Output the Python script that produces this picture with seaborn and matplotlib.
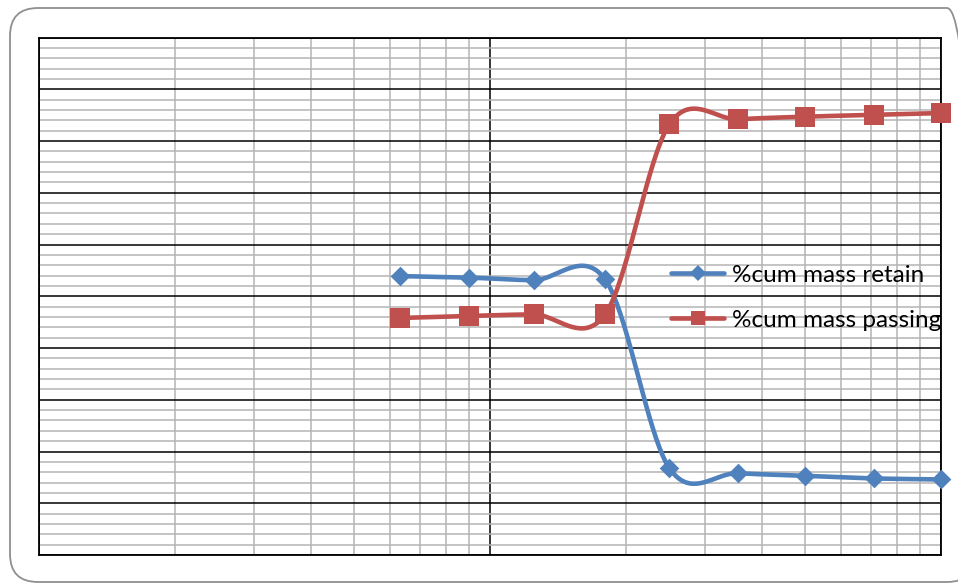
import numpy as np
import pandas as pd
import seaborn as sns
import matplotlib
matplotlib.use("Agg")
import matplotlib.pyplot as plt
from matplotlib.lines import Line2D
from matplotlib.patches import FancyBboxPatch
from matplotlib.transforms import IdentityTransform
from matplotlib.ticker import FixedLocator, NullFormatter

# ---- data (sieve size, µm) ----
sizes = [63, 90, 125, 180, 250, 355, 500, 710, 1000]
cum_retain = [53.9, 53.6, 53.1, 53.25, 16.75, 15.8, 15.3, 14.8, 14.6]
cum_passing = [45.8, 46.2, 46.5, 46.5, 83.25, 84.2, 84.7, 85.05, 85.4]
series_names = ["%cum mass retain", "%cum mass passing"]
colors = ["#4F81BD", "#C0504D"]

sns.set_style("white")
plt.rcParams["font.family"] = ["Lato", "DejaVu Sans"]

W, H = 958, 583
fig = plt.figure(figsize=(W / 100, H / 100), dpi=100)
ax = fig.add_axes([39 / W, 1 - 555 / H, (941 - 39) / W, (555 - 37.5) / H])


def excel_smooth(xs, ys, n=40):
    """Bezier (Catmull-Rom, tension 1/6) smoothing in log-x / linear-y space."""
    P = np.column_stack([np.log10(xs), ys]).astype(float)
    out = []
    for i in range(len(P) - 1):
        p0 = P[i - 1] if i > 0 else P[i]
        p1, p2 = P[i], P[i + 1]
        p3 = P[i + 2] if i + 2 < len(P) else P[i + 1]
        c1 = p1 + (p2 - p0) / 6.0
        c2 = p2 - (p3 - p1) / 6.0
        t = np.linspace(0, 1, n)[:, None]
        if i > 0:
            t = t[1:]
        seg = ((1 - t) ** 3) * p1 + 3 * ((1 - t) ** 2) * t * c1 + 3 * (1 - t) * t ** 2 * c2 + t ** 3 * p2
        out.append(seg)
    S = np.vstack(out)
    return 10 ** S[:, 0], S[:, 1]


LW = 3.3
markers = ["D", "s"]
msizes = [100, 190]
for vals, name, col, mk, ms in zip([cum_retain, cum_passing], series_names, colors, markers, msizes):
    sx, sy = excel_smooth(sizes, vals)
    curve = pd.DataFrame({"x": sx, "y": sy})
    sns.lineplot(data=curve, x="x", y="y", ax=ax, color=col, linewidth=LW, sort=False,
                 estimator=None, zorder=5, solid_capstyle="round")
    pts = pd.DataFrame({"x": sizes, "y": vals})
    sns.scatterplot(data=pts, x="x", y="y", ax=ax, color=col, marker=mk, s=ms,
                    linewidth=0, zorder=6, clip_on=False)

ax.set_xscale("log")
ax.set_xlim(10, 1000)
ax.set_ylim(0, 100)

# grid: minor gray, major black
minor_x = [m * d for d in (10, 100) for m in range(2, 10)]
ax.xaxis.set_major_locator(FixedLocator([10, 100, 1000]))
ax.xaxis.set_minor_locator(FixedLocator(minor_x))
ax.yaxis.set_major_locator(FixedLocator(np.arange(0, 101, 10)))
ax.yaxis.set_minor_locator(FixedLocator([v for v in np.arange(0, 101, 2) if v % 10 != 0]))
ax.xaxis.set_major_formatter(NullFormatter())
ax.xaxis.set_minor_formatter(NullFormatter())
ax.yaxis.set_major_formatter(NullFormatter())
ax.yaxis.set_minor_formatter(NullFormatter())
ax.tick_params(which="both", length=0)
ax.grid(which="minor", color="#B4B4B4", lw=1.1, zorder=0)
ax.grid(which="major", color="black", lw=1.1, zorder=1)
ax.set_axisbelow(True)
ax.set_xlabel("")
ax.set_ylabel("")
for sp in ax.spines.values():
    sp.set_color("black")
    sp.set_linewidth(1.3)
    sp.set_visible(True)

# legend
handles = [
    Line2D([], [], color=colors[0], linewidth=LW, marker="D", markersize=8, markeredgewidth=0,
           solid_capstyle="round"),
    Line2D([], [], color=colors[1], linewidth=LW, marker="s", markersize=10.5, markeredgewidth=0,
           solid_capstyle="round"),
]
leg = ax.legend(handles, series_names, loc="upper left",
                bbox_to_anchor=(671 / W, 1 - 264.5 / H), bbox_transform=fig.transFigure,
                frameon=False, fontsize=17.5, handlelength=2.2, handletextpad=0.3,
                labelspacing=1.0, borderpad=0, borderaxespad=0)
for t in leg.get_texts():
    t.set_color("black")

# outer rounded chart frame
frame = FancyBboxPatch((10, 1), 965, 574, boxstyle="round,pad=0,rounding_size=28",
                       transform=IdentityTransform(), fill=False, edgecolor="#8F8F8F",
                       lw=1.3, zorder=10)
fig.add_artist(frame)

fig.savefig("out.png", dpi=100)
